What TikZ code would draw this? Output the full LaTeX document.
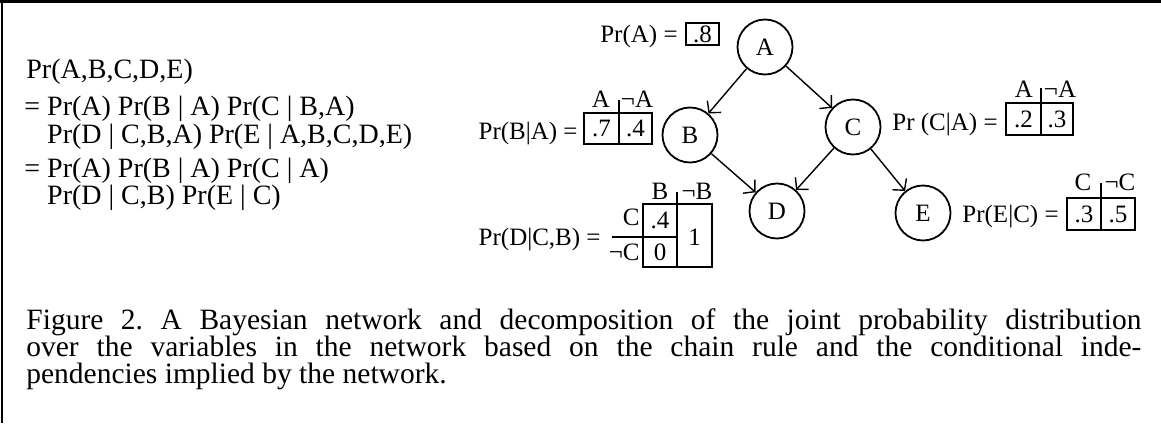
\documentclass[tikz,border=0pt]{standalone}
\usepackage{fontspec}
\setmainfont{Liberation Serif}
\usetikzlibrary{arrows.meta}
\frenchspacing

\tikzset{
  var/.style={circle, draw, line width=0.9pt, minimum size=27.5pt, inner sep=0pt},
  link/.style={-{Straight Barb[length=4pt,width=9pt]}, line width=0.7pt},
  cell/.style={line width=0.9pt},
  lbl/.style={inner sep=0pt, anchor=base east},
  eqn/.style={inner sep=0pt, anchor=base west, font=\fontsize{14}{16}\selectfont},
  hdr/.style={inner sep=0pt, anchor=base},
  val/.style={inner sep=0pt},
}

\begin{document}
\begin{tikzpicture}[x=0.5pt, y=-0.5pt, font=\fontsize{12.5}{15}\selectfont]
 \useasboundingbox (0,0) rectangle (1161,423);
 \draw [line width=1.5pt] (0,1.5) -- (1161,1.5);
 \draw [line width=1pt] (2,0) -- (2,423);

 % chain rule
 \node (j1) [eqn] at (26,78) {Pr(A,B,C,D,E)};
 \node (j2) [eqn] at (24,115) {= Pr(A) Pr(B | A) Pr(C | B,A)};
 \node (j3) [eqn] at (24,143) {\phantom{=} Pr(D | C,B,A) Pr(E | A,B,C,D,E)};
 \node (j4) [eqn] at (24,177) {= Pr(A) Pr(B | A) Pr(C | A)};
 \node (j5) [eqn] at (24,204) {\phantom{=} Pr(D | C,B) Pr(E | C)};

 % network
 \node (A) [var] at (765,47) {A};
 \node (B) [var] at (690,135) {B};
 \node (C) [var] at (853,127) {C};
 \node (D) [var] at (777,211) {D};
 \node (E) [var] at (923,213) {E};
 \draw [link] (A) -- (B);
 \draw [link] (A) -- (C);
 \draw [link] (B) -- (D);
 \draw [link] (C) -- (D);
 \draw [link] (C) -- (E);

 % Pr(A)
 \node (pa) [lbl] at (678,42) {Pr(A) =};
 \draw [cell] (686,23) rectangle (719,45);
 \node (pa1) [val] at (702.5,34) {.8};

 % Pr(B|A)
 \node (pb) [lbl] at (578,139) {Pr(B|A) =};
 \draw [cell] (584,113) rectangle (652,144);
 \draw [cell] (619,100) -- (619,144);
 \node (pbh1) [hdr] at (601,107) {A};
 \node (pbh2) [hdr] at (637,107) {¬A};
 \node (pb1) [val] at (601.5,128.5) {.7};
 \node (pb2) [val] at (635.5,128.5) {.4};

 % Pr(C|A)
 \node (pc) [lbl] at (998,130) {Pr (C|A) =};
 \draw [cell] (1006,103) rectangle (1073,135);
 \draw [cell] (1041,88) -- (1041,135);
 \node (pch1) [hdr] at (1024,97) {A};
 \node (pch2) [hdr] at (1060,97) {¬A};
 \node (pc1) [val] at (1023.5,119) {.2};
 \node (pc2) [val] at (1057,119) {.3};

 % Pr(E|C)
 \node (pe) [lbl] at (1059,222) {Pr(E|C) =};
 \draw [cell] (1067,198) rectangle (1135,230);
 \draw [cell] (1101,183) -- (1101,230);
 \node (peh1) [hdr] at (1083,190) {C};
 \node (peh2) [hdr] at (1120,190) {¬C};
 \node (pe1) [val] at (1084,214) {.3};
 \node (pe2) [val] at (1118,214) {.5};

 % Pr(D|C,B)
 \node (pd) [lbl] at (601,245) {Pr(D|C,B) =};
 \draw [cell] (643,204) rectangle (712,267);
 \draw [cell] (677,192) -- (677,267);
 \draw [cell] (612,237) -- (677,237);
 \node (pdh1) [hdr] at (660,199) {B};
 \node (pdh2) [hdr] at (697,199) {¬B};
 \node (pdr1) [lbl] at (640,225) {C};
 \node (pdr2) [lbl] at (640,260) {¬C};
 \node (pd1) [val] at (660,220.5) {.4};
 \node (pd2) [val] at (660,252) {0};
 \node (pd3) [val] at (694.5,237) {1};

 % caption
 \node (cap) [inner sep=0pt, anchor=base west, text width=557.5pt, align=justify,
   font=\fontsize{14.75}{13.5}\selectfont] at (26,329)
   {Figure 2. A Bayesian network and decomposition of the joint probability distribution\linebreak
    over the variables in the network based on the chain rule and the conditional inde-\linebreak
    pendencies implied by the network.};
\end{tikzpicture}
\end{document}
